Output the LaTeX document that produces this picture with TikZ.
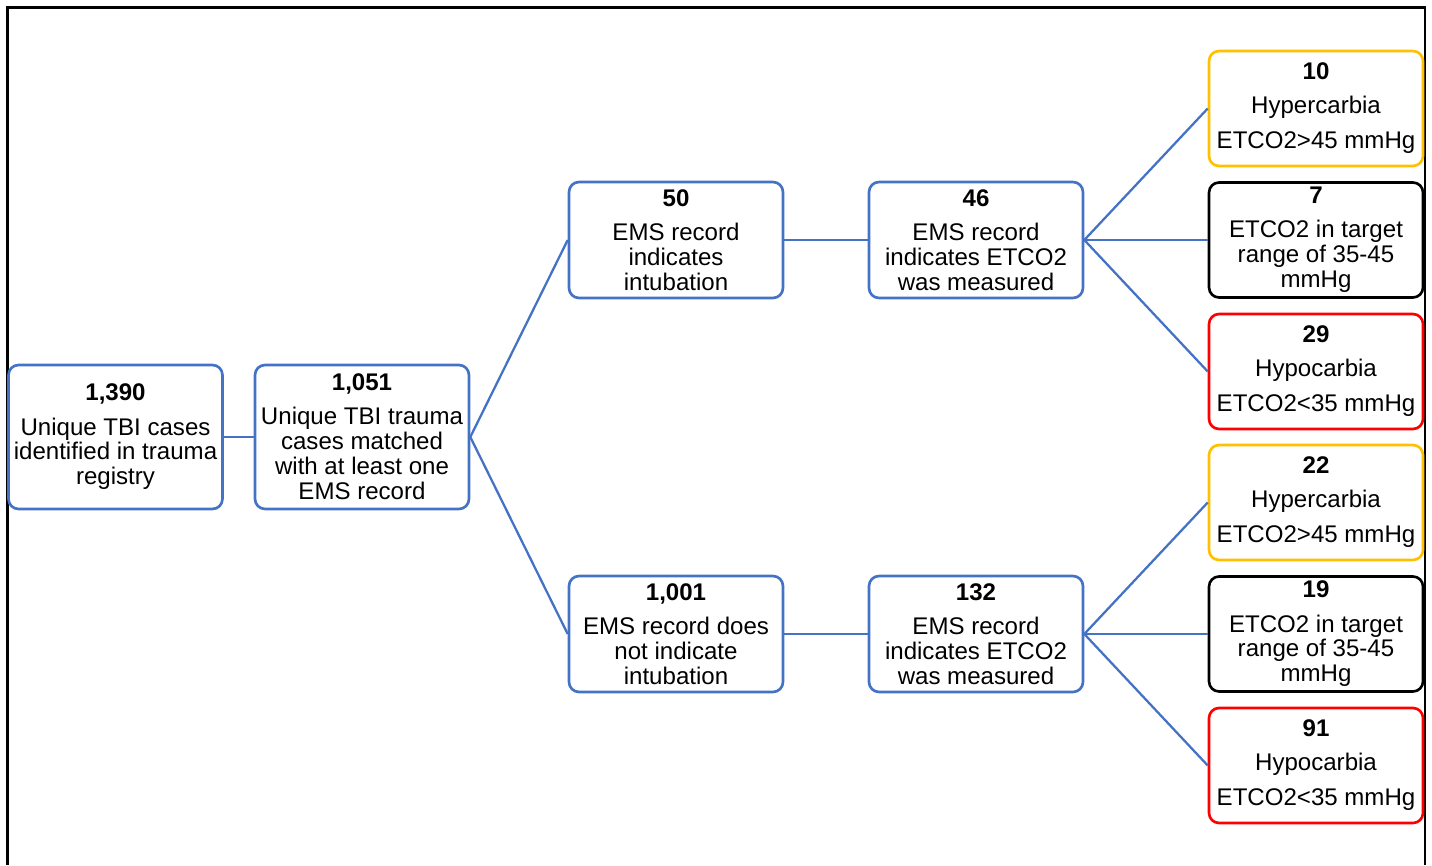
\documentclass[tikz,border=0pt]{standalone}
\usepackage{fontspec}
\setmainfont{Liberation Sans}
\definecolor{boxblue}{HTML}{4472C4}
\definecolor{boxyellow}{HTML}{FFC000}
\definecolor{boxred}{HTML}{FF0000}
\tikzset{
  stage/.style={draw=boxblue, line width=1.5pt, rounded corners=0.2cm, fill=white,
    align=center, minimum width=4.28cm, minimum height=2.32cm, inner sep=1pt,
    font=\fontsize{13.7}{14.2}\selectfont},
  link/.style={draw=boxblue, line width=1.3pt}
}
\begin{document}
\begin{tikzpicture}[x=0.02cm,y=-0.02cm]
  \useasboundingbox (0,0) rectangle (1432,865);
  \draw[line width=1.4pt] (7.5,865) -- (7.5,7.5) -- (1425,7.5) -- (1425,865);
  % left part
  \node[stage, minimum height=2.88cm](N1) at (115.5,437){\textbf{1,390}\\[5.2pt]Unique TBI cases\\identified in trauma\\registry};
  \node[stage, minimum height=2.88cm](N2) at (362,437){\textbf{1,051}\\[5.2pt]Unique TBI trauma\\cases matched\\with at least one\\EMS record};
  \node[stage](I1) at (676,240){\textbf{50}\\[5.2pt]EMS record\\indicates\\intubation};
  \node[stage](I2) at (676,634){\textbf{1,001}\\[5.2pt]EMS record does\\not indicate\\intubation};
  \node[stage](M1) at (976,240){\textbf{46}\\[5.2pt]EMS record\\indicates ETCO2\\was measured};
  \node[stage](M2) at (976,634){\textbf{132}\\[5.2pt]EMS record\\indicates ETCO2\\was measured};
  \draw[link](N1.east)--(N2.west);
  \draw[link](N2.east)--(I1.west);
  \draw[link](N2.east)--(I2.west);
  \draw[link](I1.east)--(M1.west);
  \draw[link](I2.east)--(M2.west);
  % outcome boxes
  \foreach \m/\k/\y/\c/\v/\t in {
      M1/1/108.5/boxyellow/10/{Hypercarbia\\[5.7pt]ETCO2>45 mmHg},
      M1/2/240/black/7/{ETCO2 in target\\range of 35-45\\mmHg},
      M1/3/371.5/boxred/29/{Hypocarbia\\[5.7pt]ETCO2<35 mmHg},
      M2/4/502.5/boxyellow/22/{Hypercarbia\\[5.7pt]ETCO2>45 mmHg},
      M2/5/634/black/19/{ETCO2 in target\\range of 35-45\\mmHg},
      M2/6/765.5/boxred/91/{Hypocarbia\\[5.7pt]ETCO2<35 mmHg}}{
    \node[stage, draw=\c, minimum height=2.3cm](R\k) at (1316,\y){\textbf{\v}\\[5.2pt]\t};
    \draw[link](\m.east)--(R\k.west);
  }
\end{tikzpicture}
\end{document}
